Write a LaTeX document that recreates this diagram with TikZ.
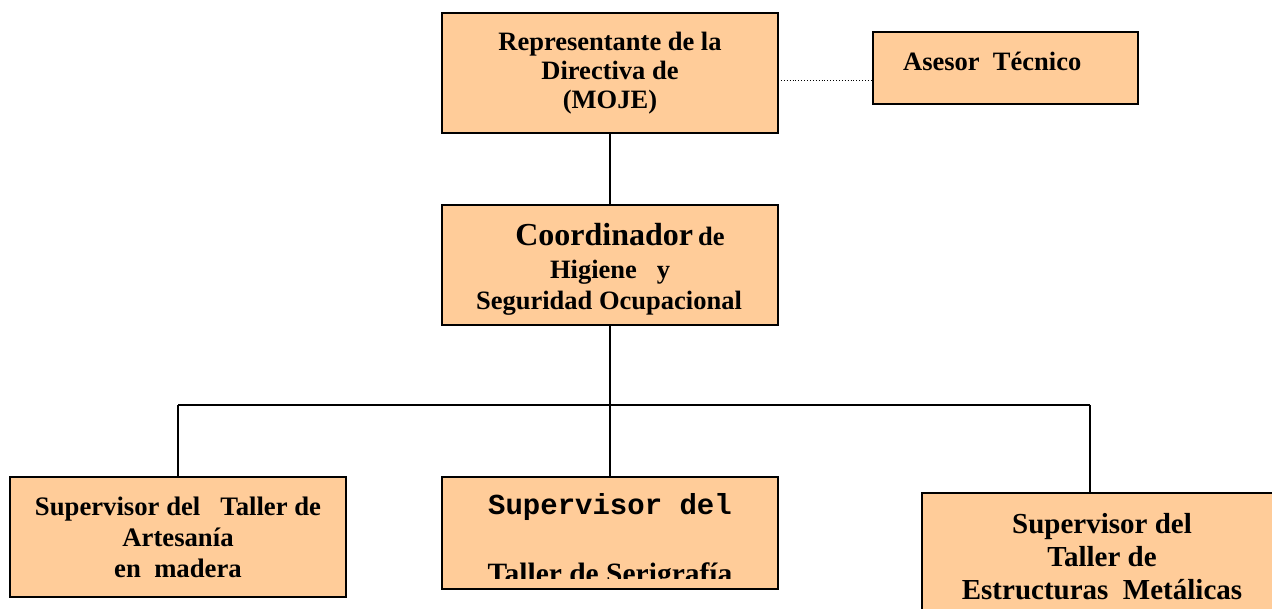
\documentclass[tikz,border=0pt]{standalone}
\usepackage{fontspec}
\setmainfont{Liberation Serif}
\newfontfamily\cour{Liberation Mono}
\definecolor{peach}{RGB}{255,204,153}
\begin{document}
\begin{tikzpicture}[x=1pt,y=-1pt,
  box/.style={draw=black,line width=1.8pt,fill=peach,inner sep=0pt,outer sep=0pt,anchor=north west},
  txt/.style={align=center,inner sep=0pt,font=\bfseries},
  link/.style={line width=1.6pt,draw=black},
  dotlink/.style={line width=0.9pt,draw=black,dotted}]
\useasboundingbox (0,0) rectangle (1272,609);
\begin{scope}
\clip (0,0) rectangle (1272,609);
% boxes
\node[box,minimum width=336pt,minimum height=120pt] (rep) at (442,13) {};
\node[box,minimum width=265pt,minimum height=72pt] (ases) at (873,32) {};
\node[box,minimum width=336pt,minimum height=120pt] (coord) at (442,205) {};
\node[box,minimum width=336pt,minimum height=120pt] (s1) at (10,477) {};
\node[box,minimum width=336pt,minimum height=112pt] (s2) at (442,477) {};
\node[box,minimum width=370pt,minimum height=150pt] (s3) at (922,493) {};
% texts
\node[txt,font=\bfseries\fontsize{26.5}{29}\selectfont] (trep) at (610,73) {Representante de la\\Directiva de\\(MOJE)};
\node[txt,font=\bfseries\fontsize{26.5}{29}\selectfont,anchor=west] (tases) at (903,61) {Asesor~~Técnico};
\node[txt,anchor=base] (tc1) at (620,246) {{\fontsize{32}{34}\selectfont Coordinador}~~{\fontsize{26.5}{29}\selectfont de}};
\node[txt,font=\bfseries\fontsize{26.5}{29}\selectfont,anchor=base] (tc2) at (610,279) {Higiene~~~y};
\node[txt,font=\bfseries\fontsize{26.5}{29}\selectfont,anchor=base] (tc3) at (609,310) {Seguridad Ocupacional};
\node[txt,font=\bfseries\fontsize{26.7}{31}\selectfont] (ts1) at (178,537) {Supervisor del~~~Taller de\\Artesanía\\en~~madera};
\node[txt,font=\cour\bfseries\fontsize{29}{30}\selectfont,anchor=base] (ts2a) at (610,514) {Supervisor del};
\begin{scope}
\clip (442,477) rectangle (778,578);
\node[txt,font=\bfseries\fontsize{29.5}{30}\selectfont,anchor=base] (ts2b) at (610,583) {Taller de Serigrafía};
\end{scope}
\node[txt,font=\bfseries\fontsize{29}{33}\selectfont] (ts3) at (1102,557) {Supervisor del\\Taller de\\Estructuras~~Metálicas};
% connectors
\coordinate (j) at (610,405);
\coordinate (hl) at (178,405);
\coordinate (hr) at (1090,405);
\draw[link] (rep.south) -- (coord.north);
\draw[link] (coord.south) -- (j);
\draw[link] (hl) -- (hr);
\draw[link] (hl) -- (s1.north);
\draw[link] (j) -- (s2.north);
\draw[link] (hr) -- (hr |- s3.north);
\coordinate (d1) at (rep.east |- 0,80);
\coordinate (d2) at (ases.west |- 0,80);
\draw[dotlink] (d1) -- (d2);
\end{scope}
\end{tikzpicture}
\end{document}
